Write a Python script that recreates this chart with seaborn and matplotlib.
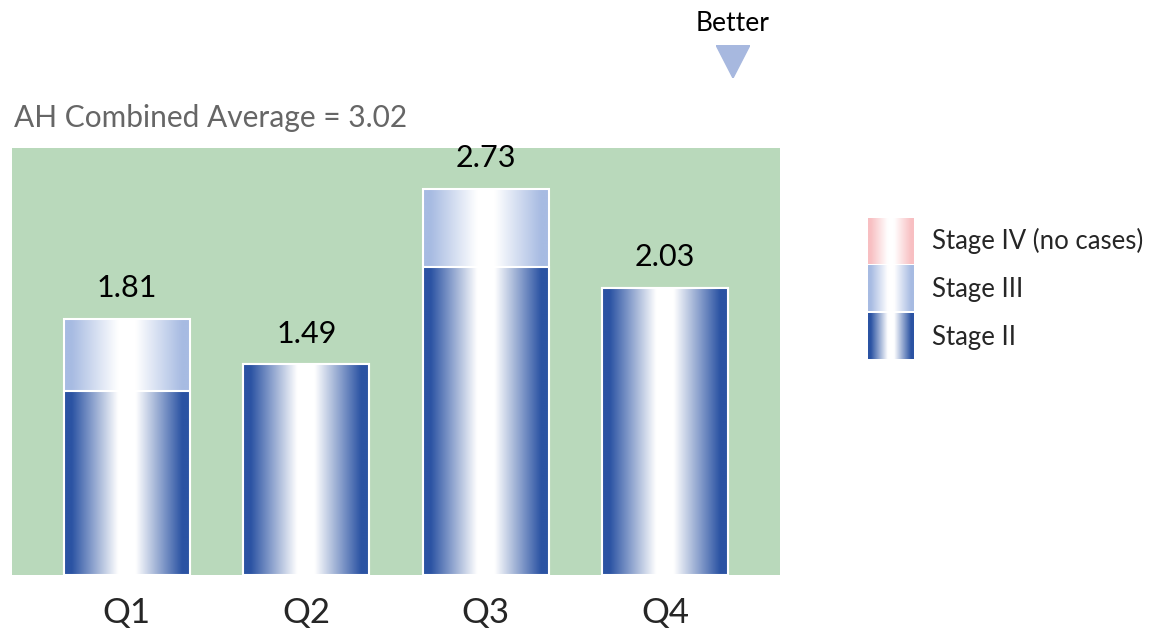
import numpy as np
import pandas as pd
import matplotlib
matplotlib.use("Agg")
import matplotlib.pyplot as plt
import seaborn as sns
from matplotlib.colors import to_rgb

quarters = ["Q1", "Q2", "Q3", "Q4"]
stage2 = [1.30, 1.49, 2.18, 2.03]
stage3 = [0.51, 0.00, 0.55, 0.00]
stage4 = [0.00, 0.00, 0.00, 0.00]
combined_avg = 3.02
legend_labels = ["Stage IV (no cases)", "Stage III", "Stage II"]

GREEN = "#b9d9bb"
DARK_BLUE = "#2b53a3"
LIGHT_BLUE = "#a7bbe2"
PINK = "#f8bfc2"

sns.set_theme(style="white")
plt.rcParams["font.family"] = ["Lato", "DejaVu Sans"]

df = pd.DataFrame({"quarter": quarters, "stage2": stage2, "stage3": stage3, "stage4": stage4})
df["total"] = df["stage2"] + df["stage3"] + df["stage4"]


def gradient(color, n=256):
    # colour at the edges, white plateau in the middle
    t = np.linspace(0, 1, n)
    d = np.abs(t - 0.5) * 2
    mix = np.clip((d - 0.14) / 0.74, 0, 1)
    c = np.array(to_rgb(color))
    img = (1 - mix)[:, None] * np.ones(3) + mix[:, None] * c
    return img[None, :, :]


W, H = 1159, 629
fig = plt.figure(figsize=(W / 100, H / 100), dpi=100)
ax = fig.add_axes([12 / W, 1 - 575 / H, (780 - 12) / W, (575 - 148) / H])
ax.set_facecolor(GREEN)

# stacked: total first (Stage III on top), then Stage II over it
sns.barplot(data=df, x="quarter", y="total", color=LIGHT_BLUE, width=0.70, ax=ax)
n_tot = len(ax.patches)
sns.barplot(data=df, x="quarter", y="stage2", color=DARK_BLUE, width=0.70, ax=ax)

for i, p in enumerate(ax.patches):
    x, y = p.get_x(), p.get_y()
    w, h = p.get_width(), p.get_height()
    if h <= 0:
        continue
    col = LIGHT_BLUE if i < n_tot else DARK_BLUE
    z = 2 if i < n_tot else 3
    ax.imshow(gradient(col), extent=[x, x + w, y, y + h], aspect="auto",
              interpolation="bilinear", zorder=z)
    p.set_facecolor("none")
    p.set_edgecolor("white")
    p.set_linewidth(1.5)
    p.set_zorder(z + 0.5)

for i, q in enumerate(quarters):
    ax.annotate(f"{df['total'][i]:.2f}", xy=(i, df["total"][i]), xytext=(0, 12),
                textcoords="offset points", ha="center", va="bottom",
                fontsize=22, color="black", zorder=6)

ax.set_xlim(-0.64, 3.64)
ax.set_ylim(0, combined_avg)
ax.set_xlabel("")
ax.set_ylabel("")
ax.set_yticks([])
ax.tick_params(axis="x", length=0, pad=16, labelsize=25)
for s in ax.spines.values():
    s.set_visible(False)

fig.text(14 / W, 1 - 127 / H, f"AH Combined Average = {combined_avg:.2f}",
         fontsize=21.5, color="#666666", ha="left", va="baseline")

# "Better" marker
fig.text(733 / W, 1 - 31 / H, "Better", fontsize=19, ha="center", va="baseline", color="black")
arr = fig.add_axes([716 / W, 1 - 78 / H, 34 / W, 33 / H])
arr.fill([0, 1, 0.5], [1, 1, 0], color="#a7b8df")
arr.set_xlim(0, 1)
arr.set_ylim(0, 1)
arr.axis("off")

# legend
leg = fig.add_axes([868 / W, 1 - 360 / H, 46 / W, 143 / H])
leg.set_xlim(0, 1)
leg.set_ylim(0, 3)
leg.axis("off")
for k, (lab, col) in enumerate(zip(legend_labels, [PINK, LIGHT_BLUE, DARK_BLUE])):
    yb = 2 - k
    leg.imshow(gradient(col), extent=[0, 1, yb + 0.02, yb + 0.98], aspect="auto",
               interpolation="bilinear")
    fig.text(932 / W, 1 - (241 + 48 * k) / H, lab, fontsize=18.5, ha="left", va="center")
leg.set_xlim(0, 1)
leg.set_ylim(0, 3)

fig.savefig("out.png", dpi=100)
